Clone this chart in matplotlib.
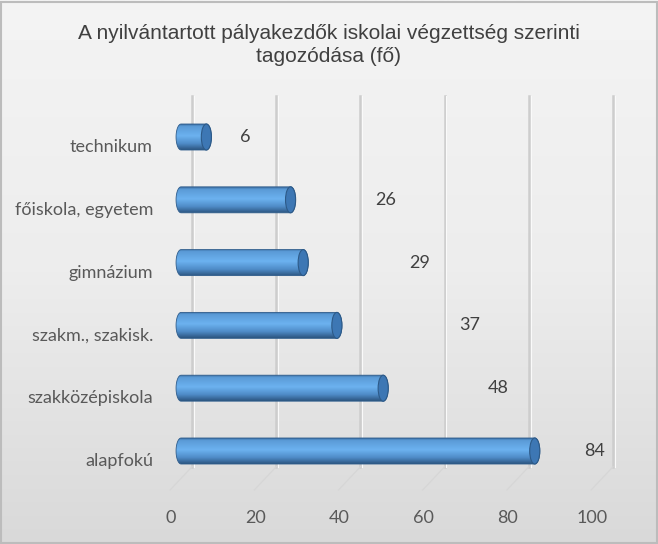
import numpy as np
import matplotlib
matplotlib.use('Agg')
import matplotlib.pyplot as plt
from matplotlib.colors import LinearSegmentedColormap
from matplotlib.patches import Polygon, Ellipse, Rectangle

# adatok
categories = ['alapfokú', 'szakközépiskola', 'szakm., szakisk.', 'gimnázium', 'főiskola, egyetem', 'technikum']
values = [84, 48, 37, 29, 26, 6]
ticks = [0, 20, 40, 60, 80, 100]
title = 'A nyilvántartott pályakezdők iskolai végzettség szerinti\ntagozódása (fő)'

# a felirat helye (Excel 3D elrendezés miatt nem egyenletes)
label_x = [100.7, 77.7, 71.0, 59.1, 51.1, 17.6]

W, H = 658, 544
fig = plt.figure(figsize=(W / 100, H / 100), dpi=100)

# hatter szinatmenet
bg = fig.add_axes([0, 0, 1, 1])
grad = np.linspace(0, 1, 256).reshape(-1, 1)
bg_cmap = LinearSegmentedColormap.from_list('bg', ['#f4f4f4', '#ededed', '#d9d9d9'])
bg.imshow(grad, aspect='auto', cmap=bg_cmap, extent=[0, 1, 0, 1], origin='upper')
bg.add_patch(Rectangle((0.002, 0.002), 0.996, 0.994, fill=False, ec='#bcbcbc', lw=1.5))
bg.set_xlim(0, 1)
bg.set_ylim(0, 1)
bg.axis('off')

fig.text(0.5, 1 - 45 / H, title, ha='center', va='center', fontsize=15,
         color='#404040', family='Liberation Sans', linespacing=1.3)

# fo tengely: elso sik 0 -> 171px, 100 -> 592px
left, right, top, bottom = 171, 592, 96, 500
ax = fig.add_axes([left / W, 1 - bottom / H, (right - left) / W, (bottom - top) / H])
px_y = 62.8
ax.set_xlim(0, 100)
ax.set_ylim(-(bottom - 451) / px_y, (451 - top) / px_y)
ax.patch.set_visible(False)
for s in ax.spines.values():
    s.set_visible(False)

# racsvonalak a hatso falon + halvany padlo
back = 5.0
ytop = ax.get_ylim()[1]
for t in ticks:
    ax.plot([t + back, t + back], [ytop, -0.25], color='#cdcdcd', lw=1.8,
            zorder=1, clip_on=False)
    ax.plot([t + back + 0.4, t + back + 0.4], [ytop, -0.25], color='#fafafa', lw=0.8,
            zorder=1, clip_on=False)
    ax.plot([t + back, t - 0.2], [-0.25, -0.62], color='#d6d6d6', lw=0.9,
            zorder=1, clip_on=False)

# henger alaku savok
cyl = LinearSegmentedColormap.from_list('cyl', [
    (0.0, '#3b6ea3'), (0.08, '#5a9ad6'), (0.45, '#6cb2f0'),
    (0.75, '#4f8cc8'), (1.0, '#2c5580')])
h = 26 / px_y
a = 1.2
x0 = 2.4
t1 = np.linspace(np.pi / 2, 3 * np.pi / 2, 40)
t2 = np.linspace(-np.pi / 2, np.pi / 2, 40)
for i, v in enumerate(values):
    xr = v + 2.4
    pts = np.vstack([
        np.column_stack([x0 + a * np.cos(t1), i + h / 2 * np.sin(t1)]),
        np.column_stack([xr + a * np.cos(t2), i + h / 2 * np.sin(t2)]),
    ])
    body = Polygon(pts, closed=True, fc='none', ec='#2f5d8c', lw=0.6, zorder=3)
    ax.add_patch(body)
    im = ax.imshow(np.linspace(0, 1, 100).reshape(-1, 1), cmap=cyl, aspect='auto',
                   extent=[x0 - a, xr + a, i - h / 2, i + h / 2], origin='upper', zorder=2)
    im.set_clip_path(body)
    ax.add_patch(Ellipse((xr, i), 2 * a, h, fc='#3d77b4', ec='#2d5a88', lw=0.8, zorder=4))
    ax.text(label_x[i], i, str(v), ha='center', va='center', fontsize=13,
            color='#404040', family='Lato', clip_on=False)
    ax.text(-4.3, i - 0.16, categories[i], ha='right', va='center', fontsize=13,
            color='#595959', family='Lato')

ax.set_xticks(ticks)
ax.set_xticklabels([str(t) for t in ticks], fontsize=13, color='#595959', family='Lato')
ax.tick_params(axis='x', length=0, pad=7)
ax.set_yticks([])
ax.set_xlim(0, 100)
ax.set_ylim(-(bottom - 451) / px_y, (451 - top) / px_y)

fig.savefig('out.png', dpi=100)
